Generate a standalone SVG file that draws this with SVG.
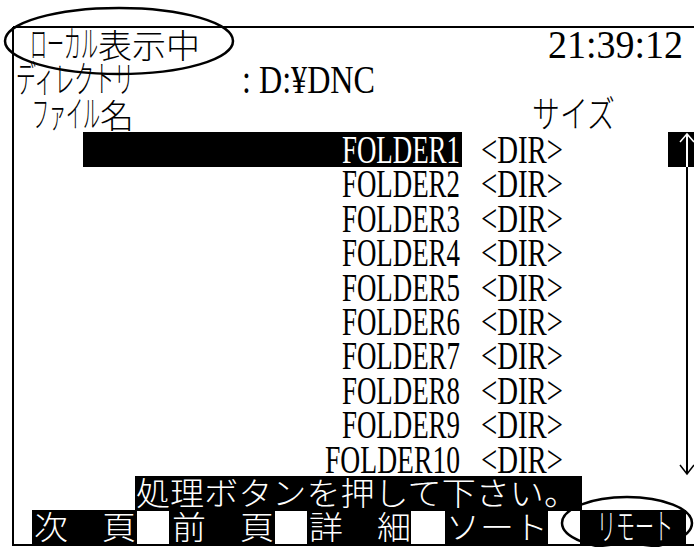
<svg xmlns="http://www.w3.org/2000/svg" width="694" height="547" viewBox="0 0 694 547">
<style>
.jp{font-family:"Noto Sans CJK JP","Noto Sans",sans-serif;font-size:33px;font-weight:300;fill:#000}
.kt{font-size:37px}
.jw{font-family:"Noto Sans CJK JP","Noto Sans",sans-serif;font-size:32px;font-weight:300;fill:#fff}
.mo{font-family:"Liberation Serif","DejaVu Serif",serif;font-size:39px;fill:#000}
.bar{fill:#000}
.ln{stroke:#000;stroke-width:2;fill:none}
.ell{stroke:#000;stroke-width:2.5;fill:none}
</style>
<rect width="694" height="547" fill="#fff"/>
<g id="frame">
<path class="ln" d="M13,27H694M13,27V545H694"/>
</g>
<g id="header">
<text class="jp" x="30" y="58"><tspan class="kt" textLength="68" lengthAdjust="spacingAndGlyphs">ローカル</tspan><tspan x="98" textLength="102" lengthAdjust="spacingAndGlyphs">表示中</tspan></text>
<text class="mo" x="548" y="58" textLength="135" lengthAdjust="spacingAndGlyphs">21:39:12</text>
<text class="jp kt" x="16" y="93" textLength="118" lengthAdjust="spacingAndGlyphs">ディレクトリ</text>
<text class="mo" x="242" y="93" textLength="133" lengthAdjust="spacingAndGlyphs">: D:¥DNC</text>
<text class="jp" x="32" y="128"><tspan class="kt" textLength="68" lengthAdjust="spacingAndGlyphs">ファイル</tspan><tspan x="100" textLength="34" lengthAdjust="spacingAndGlyphs">名</tspan></text>
<text class="jp kt" x="532" y="128" textLength="83" lengthAdjust="spacingAndGlyphs">サイズ</text>
</g>
<g id="filelist">
<rect class="bar" x="83" y="132" width="379" height="35"/>
<text class="mo" x="342" y="163" textLength="118" lengthAdjust="spacingAndGlyphs" style="fill:#fff">FOLDER1</text>
<text class="mo" x="342" y="197.4" textLength="118" lengthAdjust="spacingAndGlyphs">FOLDER2</text>
<text class="mo" x="342" y="231.8" textLength="118" lengthAdjust="spacingAndGlyphs">FOLDER3</text>
<text class="mo" x="342" y="266.2" textLength="118" lengthAdjust="spacingAndGlyphs">FOLDER4</text>
<text class="mo" x="342" y="300.6" textLength="118" lengthAdjust="spacingAndGlyphs">FOLDER5</text>
<text class="mo" x="342" y="335" textLength="118" lengthAdjust="spacingAndGlyphs">FOLDER6</text>
<text class="mo" x="342" y="369.4" textLength="118" lengthAdjust="spacingAndGlyphs">FOLDER7</text>
<text class="mo" x="342" y="403.8" textLength="118" lengthAdjust="spacingAndGlyphs">FOLDER8</text>
<text class="mo" x="342" y="438.2" textLength="118" lengthAdjust="spacingAndGlyphs">FOLDER9</text>
<text class="mo" x="325" y="472.6" textLength="135" lengthAdjust="spacingAndGlyphs">FOLDER10</text>
<text class="mo" x="481" y="163" textLength="82" lengthAdjust="spacingAndGlyphs">&lt;DIR&gt;</text>
<text class="mo" x="481" y="197.4" textLength="82" lengthAdjust="spacingAndGlyphs">&lt;DIR&gt;</text>
<text class="mo" x="481" y="231.8" textLength="82" lengthAdjust="spacingAndGlyphs">&lt;DIR&gt;</text>
<text class="mo" x="481" y="266.2" textLength="82" lengthAdjust="spacingAndGlyphs">&lt;DIR&gt;</text>
<text class="mo" x="481" y="300.6" textLength="82" lengthAdjust="spacingAndGlyphs">&lt;DIR&gt;</text>
<text class="mo" x="481" y="335" textLength="82" lengthAdjust="spacingAndGlyphs">&lt;DIR&gt;</text>
<text class="mo" x="481" y="369.4" textLength="82" lengthAdjust="spacingAndGlyphs">&lt;DIR&gt;</text>
<text class="mo" x="481" y="403.8" textLength="82" lengthAdjust="spacingAndGlyphs">&lt;DIR&gt;</text>
<text class="mo" x="481" y="438.2" textLength="82" lengthAdjust="spacingAndGlyphs">&lt;DIR&gt;</text>
<text class="mo" x="481" y="472.6" textLength="82" lengthAdjust="spacingAndGlyphs">&lt;DIR&gt;</text>
</g>
<g id="scrollbar">
<rect class="bar" x="668" y="132" width="26" height="35"/>
<path d="M687,134V167" stroke="#fff" stroke-width="2" fill="none"/>
<path d="M680,142L687,134L694,142" stroke="#fff" stroke-width="1.5" fill="none"/>
<path class="ln" d="M687,167V474"/>
<path d="M680,465L687,474L694,465" stroke="#000" stroke-width="1.5" fill="none"/>
</g>
<g id="message">
<rect class="bar" x="135" y="476" width="447" height="35"/>
<text class="jw" x="136" y="505" textLength="442" lengthAdjust="spacingAndGlyphs">処理ボタンを押して下さい。</text>
</g>
<g id="softkeys">
<rect class="bar" x="32" y="510" width="105" height="34"/>
<rect class="bar" x="169" y="510" width="106" height="34"/>
<rect class="bar" x="307" y="510" width="104" height="34"/>
<rect class="bar" x="445" y="510" width="103" height="34"/>
<rect class="bar" x="580" y="510" width="106" height="34"/>
<text class="jw" x="34" y="539" textLength="102" lengthAdjust="spacingAndGlyphs">次　頁</text>
<text class="jw" x="172" y="539" textLength="102" lengthAdjust="spacingAndGlyphs">前　頁</text>
<text class="jw" x="309" y="539" textLength="102" lengthAdjust="spacingAndGlyphs">詳　細</text>
<text class="jw" x="446" y="539" textLength="102" lengthAdjust="spacingAndGlyphs">ソート</text>
<text class="jw" x="597" y="540" textLength="76" lengthAdjust="spacingAndGlyphs" style="font-size:36px">リモート</text>
</g>
<g id="annotations">
<ellipse class="ell" cx="119" cy="41" rx="114" ry="33"/>
<ellipse class="ell" cx="627" cy="523" rx="65" ry="26"/>
</g>
</svg>
